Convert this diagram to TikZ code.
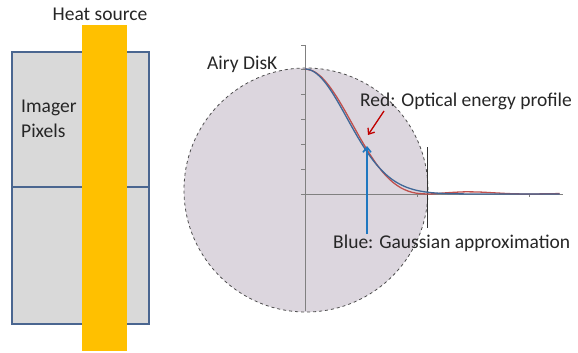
\documentclass[tikz,border=0pt]{standalone}
\usepackage{fontspec}
\setmainfont{Carlito}
\usetikzlibrary{arrows.meta}
\definecolor{pixfill}{HTML}{D9D9D9}
\definecolor{pixedge}{HTML}{4A6690}
\definecolor{heat}{HTML}{FFC000}
\definecolor{diskfill}{HTML}{DCD6DE}
\definecolor{airyred}{HTML}{C0504D}
\definecolor{gaussblue}{HTML}{4F81BD}
\definecolor{arrred}{HTML}{C00000}
\definecolor{arrblue}{HTML}{1F77C0}
\definecolor{axisgray}{HTML}{808080}
\tikzset{
  lbl/.style={font=\fontsize{19.5}{21}\selectfont, text=black!85, inner sep=0pt},
  pixbox/.style={draw=pixedge, line width=1.6pt, fill=pixfill},
  axisline/.style={draw=axisgray, line width=1pt},
  tick/.style={draw=axisgray, line width=0.7pt},
}
\begin{document}
\begin{tikzpicture}[x=1pt,y=-1pt]
\useasboundingbox (0,0) rectangle (578,353);
% imager pixels
\draw[pixbox] (12,52) rectangle (149,324);
\draw[pixedge, line width=1.6pt] (12,187) -- (149,187);
\fill[heat] (82,25) rectangle (127,351);
\node[lbl] (heatlbl) at (100,14) {Heat source};
\node[lbl, anchor=west] (imager) at (21,108) {Imager};
\node[lbl, anchor=west] (pixels) at (21,131) {Pixels};
% Airy disk
\node[circle, draw=black!70, dashed, line width=0.8pt, fill=diskfill, minimum size=244pt, inner sep=0pt] (airy) at (306,190) {};
\node[lbl, anchor=west] (airylbl) at (207,64) {Airy DisK};
% axes
\coordinate (ytop) at (305,45);
\coordinate (ybot) at (305,311);
\coordinate (xl) at (305,194);
\coordinate (xr) at (563,194);
\draw[axisline] (ytop) -- (ybot);
\draw[axisline] (xl) -- (xr);
\foreach \yy in {45,69,94,119,144,169,194} \draw[tick] (301,\yy) -- (305,\yy);
\foreach \xx in {417,529} \draw[tick] (\xx,194) -- (\xx,197);
\coordinate (vlt) at (427,147);
\coordinate (vlb) at (427,228);
\draw[black!80, line width=0.9pt] (vlt) -- (vlb);
% curves
\begin{scope}[shift={(305,194)}, x=31.84pt, y=125pt]
\draw[airyred, line width=1.3pt] plot[smooth] coordinates {
 (0,1) (0.25,0.9844) (0.5,0.9394) (0.75,0.8672) (1,0.7746) (1.25,0.6675) (1.5,0.5534)
 (1.75,0.4397) (2,0.3326) (2.25,0.2376) (2.5,0.1581) (2.75,0.0960) (3,0.0511)
 (3.25,0.0220) (3.5,0.0062) (3.8317,0) (4,0.0011) (4.5,0.0106) (5,0.0172) (5.5,0.0154)
 (6,0.0085) (6.5,0.0022) (7.0156,0) (7.5,0.0013) (8,0.0034)};
\draw[gaussblue!80!black, line width=1.3pt] plot[domain=0:8, samples=90, smooth] (\x, {exp(-\x*\x/(2*1.32*1.32))});
\end{scope}
% labels and arrows
\node[lbl, anchor=west] (redlbl) at (360,101) {Red: Optical energy profile};
\node[lbl, anchor=west] (bluelbl) at (333,243) {Blue: Gaussian approximation};
\coordinate (redtail) at (384,111);
\coordinate (redhead) at (368,135);
\coordinate (bluetail) at (367,234);
\coordinate (bluehead) at (367,146);
\draw[arrred, line width=1.3pt, -{Straight Barb[length=5pt,width=8pt]}] (redtail) -- (redhead);
\draw[arrblue, line width=1.6pt, -{Straight Barb[length=5pt,width=8pt]}] (bluetail) -- (bluehead);
\end{tikzpicture}
\end{document}
